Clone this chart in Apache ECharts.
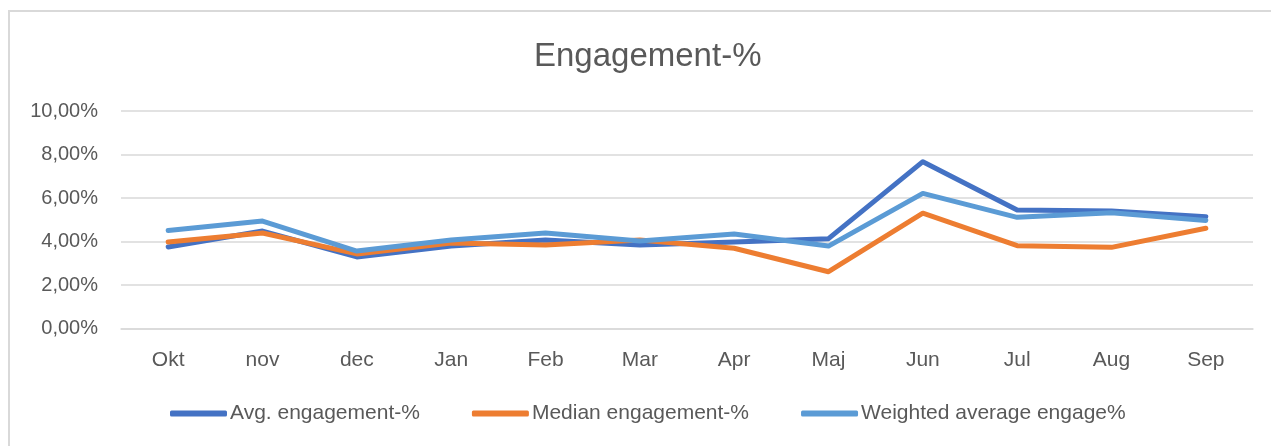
<!DOCTYPE html>
<html lang="en">
<head>
    <meta charset="UTF-8">
    <title>Engagement-%</title>
    <script type="text/javascript" src="https://cdn.jsdelivr.net/npm/echarts@6/dist/echarts.min.js"></script>
    <style>
        body { margin: 0; background: #fff; overflow: hidden; }
        #frame { position: absolute; left: 8px; top: 10px; width: 1300px; height: 500px; border: 2px solid #d9d9d9; }
        #chart { position: absolute; left: 0; top: 0; width: 1271px; height: 446px; }
    </style>
</head>
<body>
<div id="frame"></div>
<div id="chart"></div>

<script type="text/javascript">
    // data, values in percent
    var months = ['Okt', 'nov', 'dec', 'Jan', 'Feb', 'Mar', 'Apr', 'Maj', 'Jun', 'Jul', 'Aug', 'Sep'];
    var avgEngagement = [3.75, 4.48, 3.29, 3.79, 4.07, 3.84, 3.98, 4.13, 7.67, 5.45, 5.40, 5.14];
    var medianEngagement = [3.98, 4.39, 3.43, 3.93, 3.84, 4.07, 3.69, 2.61, 5.30, 3.81, 3.73, 4.61];
    var weightedEngagement = [4.51, 4.94, 3.56, 4.07, 4.39, 4.02, 4.34, 3.79, 6.21, 5.11, 5.32, 4.97];

    var font = "'Liberation Sans', Arial, sans-serif";
    var textColor = '#595959';

    function lineSeries(name, data, color) {
        return {
            name: name,
            type: 'line',
            data: data,
            symbol: 'none',
            color: color,
            lineStyle: { width: 5, color: color, cap: 'round', join: 'round' },
            emphasis: { disabled: true }
        };
    }

    var myChart = echarts.init(document.getElementById('chart'));
    myChart.setOption({
        animation: false,
        title: {
            text: 'Engagement-%',
            left: 529,
            top: 35,
            textStyle: { fontFamily: font, fontSize: 33, fontWeight: 'normal', color: textColor }
        },
        legend: {
            left: 165,
            top: 398,
            itemWidth: 57,
            itemHeight: 6,
            itemGap: 52,
            icon: 'roundRect',
            textStyle: { fontFamily: font, fontSize: 21, color: textColor, padding: [0, 0, 0, -2] },
            data: ['Avg. engagement-%', 'Median engagement-%', 'Weighted average engage%']
        },
        grid: { left: 121, right: 18, top: 111, bottom: 117.5, containLabel: false },
        xAxis: {
            type: 'category',
            data: months,
            boundaryGap: true,
            axisLine: { show: true, lineStyle: { color: '#d9d9d9', width: 1.5 } },
            axisTick: { show: false },
            axisLabel: { margin: 21, fontFamily: font, fontSize: 21, color: textColor }
        },
        yAxis: {
            type: 'value',
            min: 0,
            max: 10,
            interval: 2,
            axisLine: { show: false },
            axisTick: { show: false },
            splitLine: { lineStyle: { color: '#d9d9d9', width: 1.5 } },
            axisLabel: {
                margin: 23,
                fontFamily: font,
                fontSize: 20,
                color: textColor,
                formatter: function (v) { return v.toFixed(2).replace('.', ',') + '%'; }
            }
        },
        series: [
            lineSeries('Avg. engagement-%', avgEngagement, '#4472C4'),
            lineSeries('Median engagement-%', medianEngagement, '#ED7D31'),
            lineSeries('Weighted average engage%', weightedEngagement, '#5B9BD5')
        ]
    });
</script>
</body>
</html>
